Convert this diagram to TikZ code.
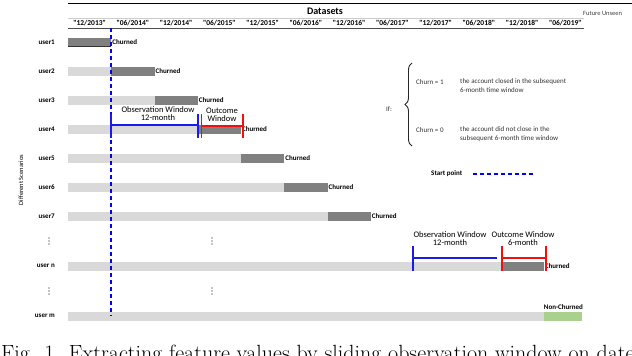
\documentclass[tikz,border=0pt]{standalone}
\usepackage{fontspec}
\newfontfamily\calfont{Carlito}
\usetikzlibrary{decorations.pathreplacing}
\definecolor{lightbar}{HTML}{D9D9D9}
\definecolor{darkbar}{HTML}{808080}
\definecolor{greenbar}{HTML}{A9D18E}
\definecolor{winblue}{HTML}{1A1AF0}
\definecolor{winred}{HTML}{F01010}
\newcommand\cx[1]{(68+43.25*(#1))}
\tikzset{
  lbl/.style={font=\calfont\bfseries\fontsize{7}{8}\selectfont, inner sep=0pt},
  datelbl/.style={font=\calfont\bfseries\fontsize{7.5}{8}\selectfont, inner sep=0pt},
  txt/.style={font=\calfont\fontsize{7}{8.5}\selectfont, inner sep=0pt, text=black!80},
  wintxt/.style={font=\calfont\fontsize{8.5}{8}\selectfont, inner sep=0pt, align=center},
  light/.style={fill=lightbar},
  dark/.style={fill=darkbar},
  bluewin/.style={draw=winblue, line width=1.4pt},
  redwin/.style={draw=winred, line width=1.4pt},
  startline/.style={draw=blue, line width=1.2pt, dash pattern=on 4pt off 3pt},
  vdot/.style={fill=black, draw=none},
}
\begin{document}
\begin{tikzpicture}[x=1pt,y=-1pt]
\useasboundingbox (0,0) rectangle (632,356);
\clip (0,0) rectangle (632,356);
% header
\draw[line width=0.8pt] (68,3) -- (632,3);
\draw[black!20, line width=0.5pt] (68,18) -- (584,18);
\draw[black!70, line width=0.8pt] (68,28) -- (584,28);
\node[font=\calfont\bfseries\fontsize{10}{11}\selectfont, inner sep=0pt] (ds) at (325,11) {Datasets};
\node[font=\calfont\fontsize{6.5}{7}\selectfont, inner sep=0pt, text=black!75, anchor=west] (fu) at (583,13) {Future Unseen};
\foreach \d [count=\i from 0] in {12/2013,06/2014,12/2014,06/2015,12/2015,06/2016,12/2016,06/2017,12/2017,06/2018,12/2018,06/2019}
  \node[datelbl] (d\i) at ({\cx{\i}+21.6},23) {"\d"};
% axis label
\node[font=\calfont\fontsize{6.5}{7}\selectfont, inner sep=0pt, rotate=90] (axis) at (21,180) {Different Scenarios};
% rows
\foreach \n/\y/\k in {1/42/0,2/71/1,3/100/2,4/129/3,5/158/4,6/187/5,7/216/6}{
  \node[lbl, anchor=east] (u\n) at (55,\y) {user\n};
  \fill[light] (68,\y-4.5) rectangle ({\cx{\k}},\y+4.5);
  \fill[dark] ({\cx{\k}},\y-4.5) rectangle ({\cx{\k+1}},\y+4.5);
  \node[lbl, anchor=west] (c\n) at ({\cx{\k+1}+1},\y) {Churned};
}
\draw[black!80, line width=0.6pt] (68,46.5) -- ({\cx{1}},46.5);
\node[lbl, anchor=east] (un) at (55,266) {user n};
\fill[light] (68,261.5) rectangle ({\cx{10}},270.5);
\fill[dark] ({\cx{10}},261.5) rectangle ({\cx{11}},270.5);
\node[lbl, anchor=west] (cn) at ({\cx{11}+1},266) {Churned};
\node[lbl, anchor=east] (um) at (55,316) {user m};
\fill[light] (68,311.5) rectangle ({\cx{11}},320.5);
\fill[greenbar] ({\cx{11}},311.5) rectangle (582,320.5);
\node[lbl, anchor=west] (ncm) at ({\cx{11}},307) {Non-Churned};
% vertical dots
\foreach \y in {241,291}{
  \foreach \x in {49,212}{
    \foreach \dy in {-3,0,3}
      \fill[vdot] (\x,\y+\dy) circle (0.6);
  }
}
% start line
\coordinate (st0) at (111,28);
\coordinate (st1) at (111,316);
\draw[startline] (st0) -- (st1);
% user4 windows
\coordinate (ob1) at (111,125); \coordinate (ob2) at (198,125);
\draw[bluewin] (ob1) -- (ob2);
\draw[bluewin] (111,114) -- (111,138);
\draw[bluewin] (198,114) -- (198,138);
\coordinate (oc1) at (201.5,126); \coordinate (oc2) at (243,126);
\draw[redwin] (oc1) -- (oc2);
\draw[redwin] (201.5,114) -- (201.5,138);
\draw[redwin] (243,114) -- (243,138);
\node[wintxt] (ow4) at (158,114) {Observation Window\\12-month};
\node[wintxt] (oc4) at (222,115) {Outcome\\Window};
% user n windows
\draw[bluewin] (413,258) -- (497,258);
\draw[bluewin] (413,246) -- (413,271);
\draw[redwin] (502,258) -- (546,258);
\draw[redwin] (502,246) -- (502,271);
\draw[redwin] (546,246) -- (546,271);
\node[wintxt] (own) at (450,239) {Observation Window\\12-month};
\node[wintxt] (ocn) at (523,239) {Outcome Window\\6-month};
% legend
\node[txt] (if) at (389,109) {If:};
\coordinate (br0) at (412,146);
\coordinate (br1) at (412,63);
\draw[black!85, line width=0.9pt, decorate, decoration={brace, amplitude=7pt}] (br0) -- (br1);
\node[txt, anchor=west] (ch1) at (416,82) {Churn = 1};
\node[txt, anchor=north west, align=left] (d1) at (460,78.5) {the account closed in the subsequent\\6-month time window};
\node[txt, anchor=west] (ch0) at (416,130) {Churn = 0};
\node[txt, anchor=north west, align=left] (d0) at (460,126.5) {the account did not close in the\\subsequent 6-month time window};
\node[lbl, anchor=west] (sp) at (431,174) {Start point};
\coordinate (sl0) at (473,174); \coordinate (sl1) at (534,174);
\draw[startline] (sl0) -- (sl1);
% caption
\node[anchor=base west, inner sep=0pt, font=\fontsize{22}{24}\selectfont] (cap) at (1,360) {Fig. 1. Extracting feature values by sliding observation window on date};
\end{tikzpicture}
\end{document}
